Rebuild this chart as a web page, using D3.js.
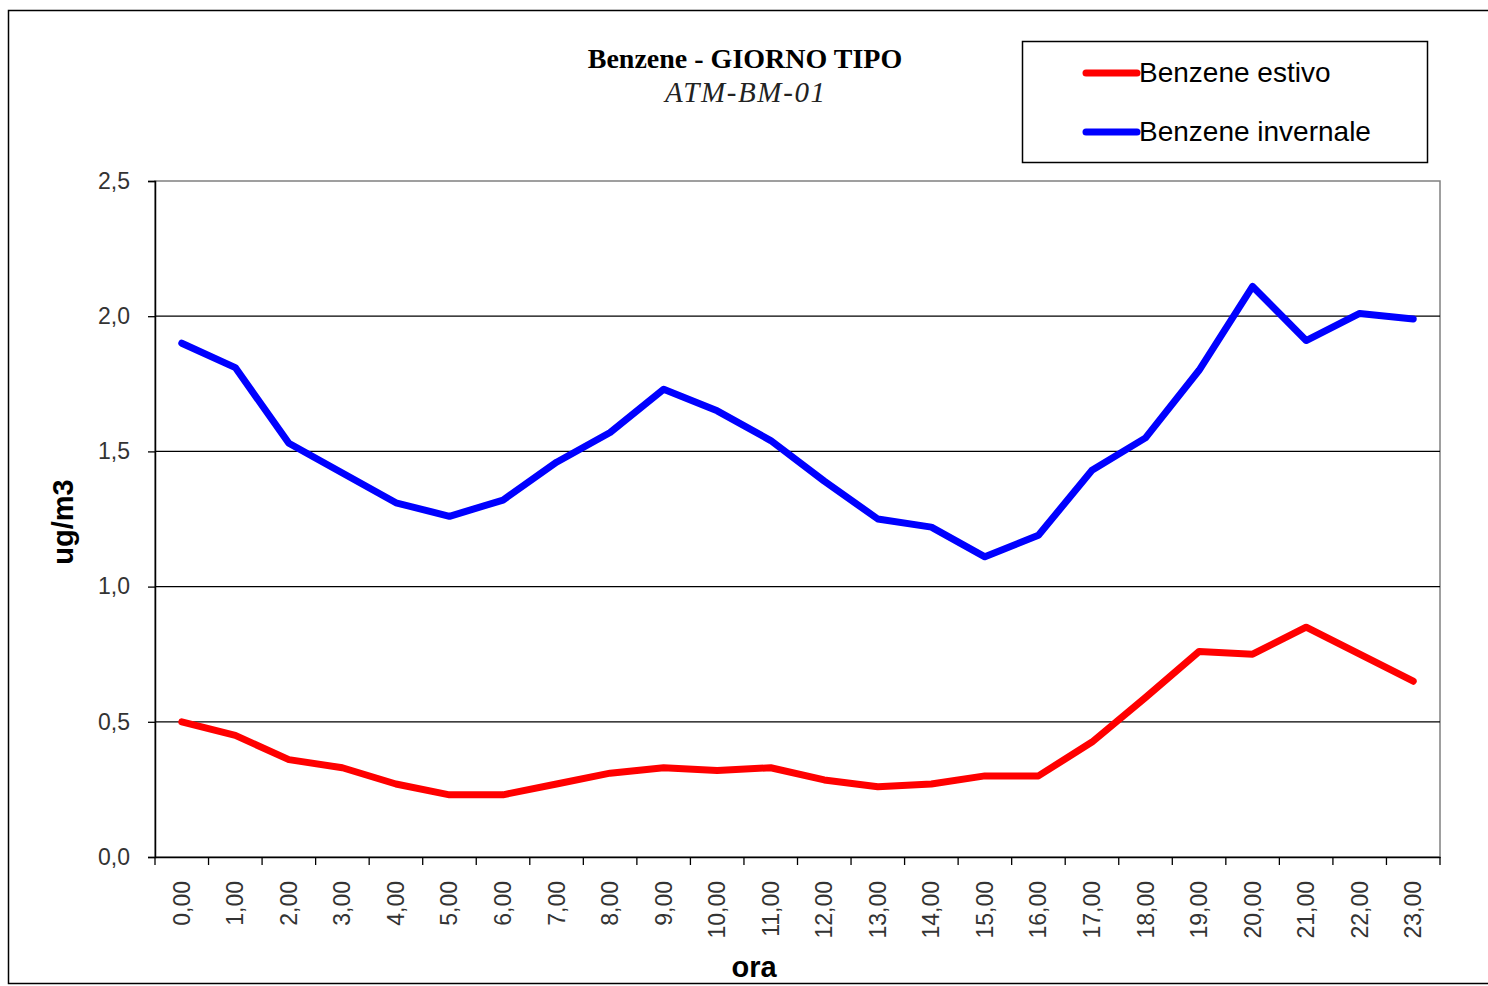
<!DOCTYPE html>
<html><head><meta charset="utf-8">
<script src="https://cdn.jsdelivr.net/npm/d3@7"></script>
<style>body{margin:0;background:#fff}svg{display:block}</style>
</head><body>
<svg id="c" width="1488" height="986"></svg>
<script>
const categories = ["0,00","1,00","2,00","3,00","4,00","5,00","6,00","7,00","8,00","9,00","10,00","11,00","12,00","13,00","14,00","15,00","16,00","17,00","18,00","19,00","20,00","21,00","22,00","23,00"];
const estivo = [0.50,0.45,0.36,0.33,0.27,0.23,0.23,0.27,0.31,0.33,0.32,0.33,0.285,0.26,0.27,0.30,0.30,0.425,0.59,0.76,0.75,0.85,0.75,0.65];
const invernale = [1.90,1.81,1.53,1.42,1.31,1.26,1.32,1.46,1.57,1.73,1.65,1.54,1.39,1.25,1.22,1.11,1.19,1.43,1.55,1.80,2.11,1.91,2.01,1.99];
const yTicks = [0,0.5,1.0,1.5,2.0,2.5];
const seriesNames = ["Benzene estivo","Benzene invernale"];
const seriesColors = ["#ff0000","#0000ff"];

const svg = d3.select("#c");
const L=155, R=1440, T=181, B=857;

svg.append("rect").attr("x",8.5).attr("y",10.5).attr("width",1500).attr("height",973)
  .attr("fill","#fff").attr("stroke","#000").attr("stroke-width",1.5);

const x = d3.scaleBand().domain(categories).range([L,R]);
const y = d3.scaleLinear().domain([0,2.5]).range([B,T]);

svg.append("rect").attr("x",L).attr("y",T).attr("width",R-L).attr("height",B-T)
  .attr("fill","none").attr("stroke","#808080").attr("stroke-width",1.5);

svg.append("g").selectAll("line").data(yTicks.filter(d=>d>0&&d<2.5)).join("line")
  .attr("x1",L).attr("x2",R).attr("y1",d=>y(d)).attr("y2",d=>y(d))
  .attr("stroke","#000").attr("stroke-width",1.3);

const fmt = d=>d.toFixed(1).replace(".",",");
const ya = svg.append("g").attr("transform",`translate(${L},0)`)
  .call(d3.axisLeft(y).tickValues(yTicks).tickFormat(fmt).tickSize(7).tickPadding(18));
ya.select(".domain").attr("stroke","#000").attr("stroke-width",1.5);
ya.selectAll(".tick line").attr("stroke","#000").attr("stroke-width",1.3);
ya.selectAll("text").attr("font-family","Liberation Sans, Arial, sans-serif").attr("font-size",23).attr("fill","#333");

const xa = svg.append("g").attr("transform",`translate(0,${B})`)
  .call(d3.axisBottom(x).tickSize(0).tickFormat(""));
xa.select(".domain").attr("stroke","#000").attr("stroke-width",1.5);
const bounds = categories.map(c=>x(c)).concat([R]);
svg.append("g").selectAll("line").data(bounds).join("line")
  .attr("x1",d=>d).attr("x2",d=>d).attr("y1",B).attr("y2",B+8)
  .attr("stroke","#000").attr("stroke-width",1.3);
svg.append("g").selectAll("text").data(categories).join("text")
  .attr("transform",d=>`translate(${x(d)+x.bandwidth()/2+8},${B+24}) rotate(-90)`)
  .attr("text-anchor","end")
  .attr("font-family","Liberation Sans, Arial, sans-serif").attr("font-size",23).attr("fill","#333")
  .text(d=>d);

const line = d3.line().x((d,i)=>x(categories[i])+x.bandwidth()/2).y(d=>y(d));
[estivo,invernale].forEach((s,k)=>{
  svg.append("path").datum(s).attr("d",line).attr("fill","none")
    .attr("stroke",seriesColors[k]).attr("stroke-width",7)
    .attr("stroke-linejoin","round").attr("stroke-linecap","round");
});

svg.append("text").attr("x",745).attr("y",68).attr("text-anchor","middle")
  .attr("font-family","Liberation Serif, Times New Roman, serif").attr("font-weight","bold")
  .attr("font-size",28).text("Benzene - GIORNO TIPO");
svg.append("text").attr("x",745).attr("y",102).attr("text-anchor","middle")
  .attr("font-family","Liberation Serif, Times New Roman, serif").attr("font-style","italic")
  .attr("font-size",29).attr("fill","#222").attr("textLength",160).text("ATM-BM-01");

svg.append("text").attr("transform","translate(73,522) rotate(-90)").attr("text-anchor","middle")
  .attr("font-family","Liberation Sans, Arial, sans-serif").attr("font-weight","bold")
  .attr("font-size",29).text("ug/m3");
svg.append("text").attr("x",754).attr("y",977).attr("text-anchor","middle")
  .attr("font-family","Liberation Sans, Arial, sans-serif").attr("font-weight","bold")
  .attr("font-size",29).text("ora");

const lg = svg.append("g");
lg.append("rect").attr("x",1022.5).attr("y",41.5).attr("width",405).attr("height",121)
  .attr("fill","#fff").attr("stroke","#000").attr("stroke-width",1.5);
seriesNames.forEach((n,k)=>{
  const yy = 73 + k*59;
  lg.append("line").attr("x1",1086).attr("x2",1137).attr("y1",yy).attr("y2",yy)
    .attr("stroke",seriesColors[k]).attr("stroke-width",7).attr("stroke-linecap","round");
  lg.append("text").attr("x",1139).attr("y",yy+9)
    .attr("font-family","Liberation Sans, Arial, sans-serif").attr("font-size",28).text(n);
});
</script>
</body></html>
